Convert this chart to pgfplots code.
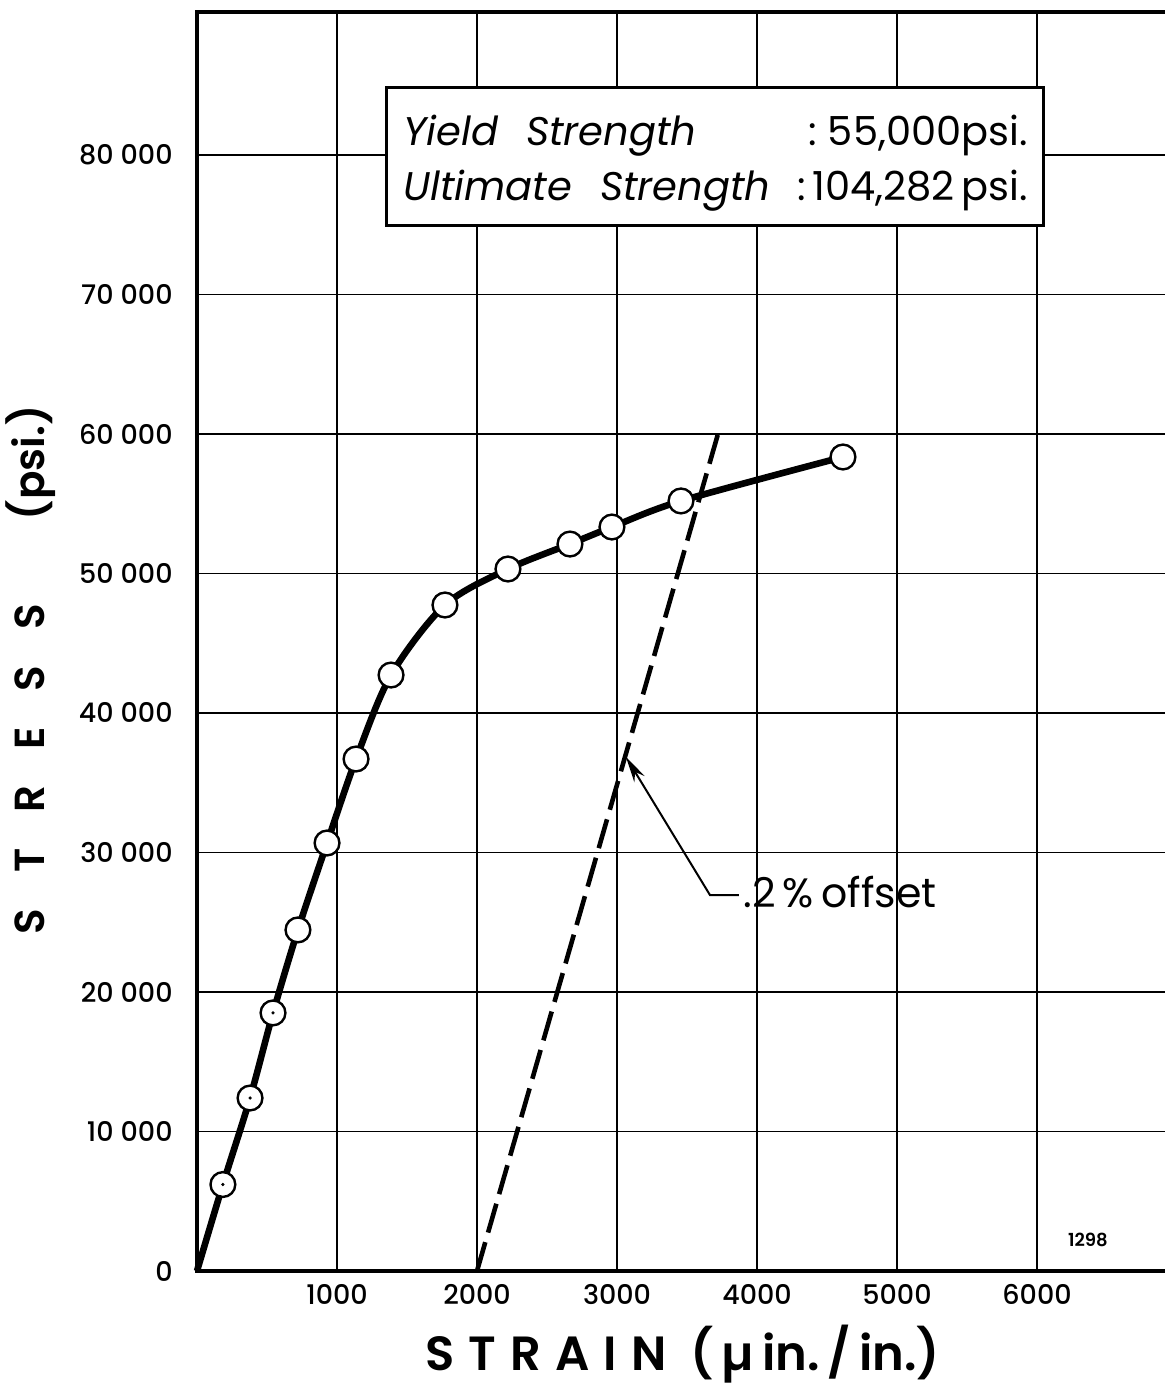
\documentclass[border=0pt]{standalone}
\usepackage{fontspec}
\setmainfont{Poppins}[BoldFont={Poppins SemiBold}]
\newfontfamily\tickfont{Poppins Medium}
\usepackage{pgfplots}
\pgfplotsset{compat=1.18}
\usetikzlibrary{arrows.meta}
\begin{document}
\begin{tikzpicture}
\useasboundingbox (-98.5pt,-56.5pt) rectangle (483.5pt,635.5pt);
\begin{axis}[
  at={(0,0)}, anchor=south west, scale only axis,
  width=490pt, height=629.5pt,
  xmin=0, xmax=7000, ymin=0, ymax=90250,
  xtick={1000,2000,3000,4000,5000,6000},
  xticklabels={1000,2000,3000,4000,5000,6000},
  ytick={0,10000,20000,30000,40000,50000,60000,70000,80000},
  yticklabels={0,10 000,20 000,30 000,40 000,50 000,60 000,70 000,80 000},
  grid=major, major grid style={black, line width=0.9pt},
  axis line style={line width=1.6pt},
  major tick length=0pt,
  xticklabel style={font=\tickfont\fontsize{13.5}{14}\selectfont, anchor=center, yshift=-11.5pt},
  yticklabel style={font=\tickfont\fontsize{13.5}{14}\selectfont, anchor=east, inner sep=0pt, xshift=-12pt},
  clip=false,
]
% stress-strain curve
\addplot[line width=3.3pt, smooth, tension=0.5] coordinates {
(0,0) (185,6200) (379,12400) (543,18500) (721,24450) (929,30680)
(1136,36700) (1386,42720) (1771,47740) (2221,50320) (2664,52110)
(2964,53330) (3457,55200) (4614,58350)};
% 0.2% offset line
\addplot[line width=2.3pt, dash pattern=on 15pt off 5pt] coordinates {(2000,0) (3730,60300)};
% data markers
\addplot[only marks, mark=*, mark size=6.2pt, mark options={fill=white, draw=black, line width=1.2pt}] coordinates {
(185,6200) (379,12400) (543,18500) (721,24450) (929,30680)
(1136,36700) (1386,42720) (1771,47740) (2221,50320) (2664,52110)
(2964,53330) (3457,55200) (4614,58350)};
\addplot[only marks, mark=*, mark size=0.6pt, black] coordinates {(185,6200) (379,12400) (543,18500)};
% info box
\draw[fill=white, line width=1.5pt] (axis cs:1350,74910) rectangle (axis cs:6043,84800);
\node[anchor=base west, inner sep=0pt, font=\fontsize{20}{22}\selectfont\itshape] at (axis cs:1470,80710) {Yield\hspace{14pt}Strength};
\node[anchor=base west, inner sep=0pt, font=\fontsize{20}{22}\selectfont\itshape] at (axis cs:1470,76700) {Ultimate\hspace{14pt}Strength};
\node[anchor=base east, inner sep=0pt, font=\fontsize{20}{22}\selectfont] at (axis cs:5936,80710) {:\ 55,000psi.};
\node[anchor=base east, inner sep=0pt, font=\fontsize{20}{22}\selectfont] at (axis cs:5936,76700) {:\,104,282\,psi.};
% offset annotation
\draw[line width=1pt, -{Stealth[length=13pt, width=6pt]}] (axis cs:3870,26950) -- (axis cs:3664,26950) -- (axis cs:3064,36850);
\node[anchor=base west, inner sep=0pt, font=\fontsize{20.5}{22}\selectfont] at (axis cs:3900,26090) {.2\,\%\hspace{4pt}offset};
\node[font=\bfseries\fontsize{9}{10}\selectfont] at (axis cs:6364,2250) {1298};
% axis titles
\node[anchor=base, inner sep=0pt, font=\bfseries\fontsize{24}{26}\selectfont] at (axis cs:3470,-7100)
  {S\hspace{7pt}T\hspace{7pt}R\hspace{7pt}A\hspace{7pt}I\hspace{7pt}N\hspace{12pt}(\,µ\,in.\,/\,in.)};
\node[rotate=90, anchor=base, inner sep=0pt, font=\bfseries\fontsize{21}{22}\selectfont] at (axis cs:-1090,43080)
  {S\hspace{18pt}T\hspace{18pt}R\hspace{18pt}E\hspace{18pt}S\hspace{18pt}S\hspace{42pt}(psi.)};
\end{axis}
\end{tikzpicture}
\end{document}
